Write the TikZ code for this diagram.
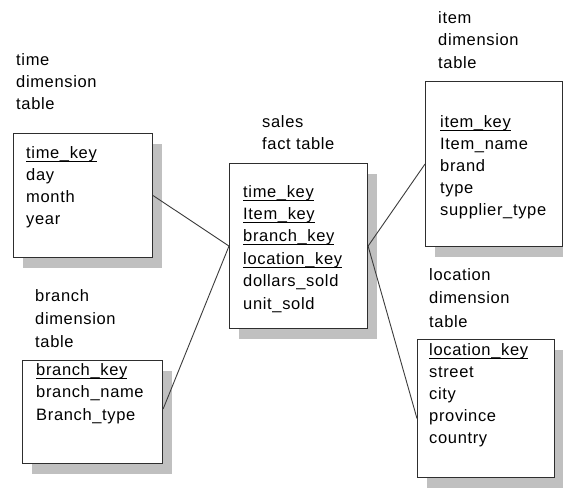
\documentclass[tikz,border=0pt]{standalone}
\usepackage{fontspec}
\setmainfont{Liberation Sans}[LetterSpace=4.0]
\usetikzlibrary{shadows}

\definecolor{boxline}{HTML}{2E2E2E}
\definecolor{linkgray}{HTML}{3C3C3C}
\definecolor{shadowgray}{HTML}{C0C0C0}

% underlined key attribute (rule sits on the underscore height)
\newcommand\keyline[1]{\setbox0\hbox{#1}\rlap{\rule[-3.5pt]{\wd0}{1pt}}\box0}

\tikzset{
  tablebox/.style={draw=boxline, line width=1.1pt, fill=white, anchor=north west,
    inner sep=0pt,
    drop shadow={shadow xshift=9pt, shadow yshift=-10pt, fill=shadowgray, opacity=1}},
  field/.style={anchor=base west, inner sep=0pt, font=\fontsize{16.5}{22}\selectfont},
  link/.style={draw=linkgray, line width=0.9pt}
}

\begin{document}
\begin{tikzpicture}[x=1pt, y=-1pt]
\clip (0,0) rectangle (563,488);
\fill[white] (0,0) rectangle (563,488);

% table frames
\node[tablebox, minimum width=139pt, minimum height=124pt] (time) at (13,133) {};
\node[tablebox, minimum width=138pt, minimum height=165pt] (sales) at (229,163) {};
\node[tablebox, minimum width=137pt, minimum height=165pt] (item) at (425,81) {};
\node[tablebox, minimum width=140pt, minimum height=103pt] (branch) at (22,360) {};
\node[tablebox, minimum width=137pt, minimum height=138pt] (loc) at (417,339) {};

% captions
\foreach \t [count=\i from 0] in {time,dimension,table}
  \node[field] (time-c\i) at (16,65+22*\i) {\t};
\foreach \t [count=\i from 0] in {sales,fact table}
  \node[field] (sales-c\i) at (262,127+22*\i) {\t};
\foreach \t [count=\i from 0] in {item,dimension,table}
  \node[field] (item-c\i) at (438,23+22.5*\i) {\t};
\foreach \t [count=\i from 0] in {branch,dimension,table}
  \node[field] (branch-c\i) at (35,301+23*\i) {\t};
\foreach \t [count=\i from 0] in {location,dimension,table}
  \node[field] (loc-c\i) at (429,280+23.5*\i) {\t};

% attributes
\foreach \t [count=\i from 0] in {{\keyline{time\_key}},day,month,year}
  \node[field] (time-f\i) at (26,158+22*\i) {\t};
\foreach \t [count=\i from 0] in {{\keyline{time\_key}},{\keyline{Item\_key}},
    {\keyline{branch\_key}},{\keyline{location\_key}},dollars\_sold,unit\_sold}
  \node[field] (sales-f\i) at (243,197+22.4*\i) {\t};
\foreach \t [count=\i from 0] in {{\keyline{item\_key}},Item\_name,brand,type,supplier\_type}
  \node[field] (item-f\i) at (440,127+22*\i) {\t};
\foreach \t [count=\i from 0] in {{\keyline{branch\_key}},branch\_name,Branch\_type}
  \node[field] (branch-f\i) at (36,375+22.5*\i) {\t};
\foreach \t [count=\i from 0] in {{\keyline{location\_key}},street,city,province,country}
  \node[field] (loc-f\i) at (429,355+22*\i) {\t};

% links between fact and dimension tables
\draw[link] (time.east) -- (sales.west);
\draw[link] ([yshift=3pt]branch.east) -- (sales.west);
\draw[link] (sales.east) -- (item.west);
\draw[link] (sales.east) -- ([yshift=-10pt]loc.west);
\end{tikzpicture}
\end{document}
